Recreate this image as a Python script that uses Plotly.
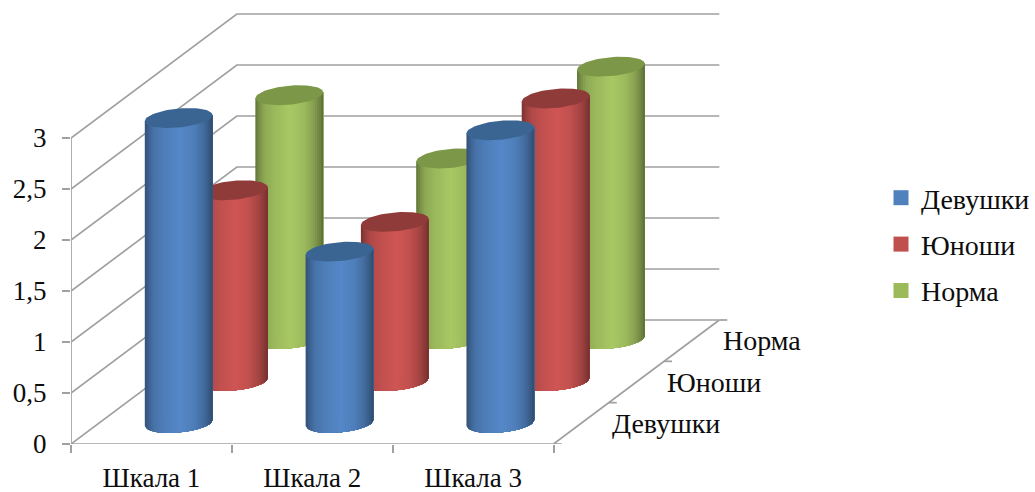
import math
import plotly.graph_objects as go

# ---- data ----
categories = ["Шкала 1", "Шкала 2", "Шкала 3"]
girls = [2.99, 1.68, 2.87]
boys = [1.87, 1.56, 2.77]
norm = [2.39, 1.77, 2.67]
series_names = ["Девушки", "Юноши", "Норма"]
value_ticks = [0, 0.5, 1, 1.5, 2, 2.5, 3]
value_labels = ["0", "0,5", "1", "1,5", "2", "2,5", "3"]

# ---- geometry / style ----
W, H = 1035, 492
ML, MB = 71, 48
PX_X, PX_Y = 161.0, 102.0        # pixels per category / per value unit
DEPTH_X, DEPTH_Y = 166 / PX_X, 124 / PX_Y   # oblique offset of the full floor depth
CYL_DEPTH_Y = 126 / PX_Y
CYL_NUDGE_X = -0.4 / PX_X
RX, RY, LEAN = 33.9 / PX_X, 9.5 / PX_Y, 3 / PX_Y
FONT = "Liberation Serif"
FS = 27
FS_NAMES = 28
INK = "#0d0d0d"
GRID = "#a0a0a0"
PEAK = {"Девушки": (85, 136, 200), "Юноши": (207, 86, 84), "Норма": (168, 200, 100)}
CAP = {"Девушки": "#3a6593", "Юноши": "#8f3b39", "Норма": "#7c9747"}
KEY = {"Девушки": "#4f81bd", "Юноши": "#c0504d", "Норма": "#9bbb59"}
SHADE = [(0, .58), (.06, .72), (.14, .85), (.3, .93), (.52, 1.0), (.72, .93), (.86, .8), (.95, .66), (1, .55)]
N_STRIPS = 34


def project(cat, depth, val):
    return cat + depth * DEPTH_X, val + depth * DEPTH_Y


def shade(rgb, s):
    for (s0, m0), (s1, m1) in zip(SHADE, SHADE[1:]):
        if s <= s1:
            m = m0 + (m1 - m0) * (s - s0) / (s1 - s0)
            break
    return "rgb(%d,%d,%d)" % tuple(round(c * m) for c in rgb)


fig = go.Figure()

# walls and floor
n_cat = len(categories)
gx, gy = [], []
top = max(value_ticks)
for v in value_ticks:
    for c, d in [(0, 0), (0, 1), (n_cat, 1)]:
        x, y = project(c, d, v)
        gx.append(x); gy.append(y)
    gx.append(None); gy.append(None)
for a, b in [((0, 0, 0), (n_cat, 0, 0)), ((n_cat, 0, 0), (n_cat, 1, 0)), ((0, 0, 0), (0, 0, top))]:
    for p in (a, b):
        x, y = project(*p)
        gx.append(x); gy.append(y)
    gx.append(None); gy.append(None)
# depth-axis ticks
for i in range(len(series_names) + 1):
    x, y = project(n_cat, i / len(series_names), 0)
    gx += [x, x + 8 / PX_X, None]
    gy += [y, y, None]
fig.add_trace(go.Scatter(x=gx, y=gy, mode="lines", line=dict(color=GRID, width=1.7),
                         hoverinfo="skip", showlegend=False))


def cylinder(cat_i, depth_i, value, name):
    d = (depth_i + 0.5) / len(series_names)
    cx = cat_i + 0.5 + d * DEPTH_X + CYL_NUDGE_X
    base = d * CYL_DEPTH_Y
    topv = base + value
    for k in range(N_STRIPS):
        s0 = k / N_STRIPS
        xs, ys = [], []
        m = N_STRIPS - k
        for j in range(m + 1):
            s = s0 + (1 - s0) * j / m
            u = 2 * s - 1
            xs.append(cx + RX * u)
            ys.append(base - RY * math.sqrt(max(0, 1 - u * u)) + LEAN * u)
        xs += [cx + RX, cx + RX * (2 * s0 - 1)]
        ys += [topv + LEAN, topv + LEAN * (2 * s0 - 1)]
        fig.add_trace(go.Scatter(x=xs, y=ys, mode="lines", fill="toself", line=dict(width=0),
                                 fillcolor=shade(PEAK[name], s0 + .5 / N_STRIPS),
                                 hoverinfo="skip", showlegend=False))
    xs, ys = [], []
    for j in range(73):
        t = 2 * math.pi * j / 72
        xs.append(cx + RX * math.cos(t))
        ys.append(topv + RY * math.sin(t) + LEAN * math.cos(t))
    fig.add_trace(go.Scatter(x=xs, y=ys, mode="lines", fill="toself", line=dict(width=0),
                             fillcolor=CAP[name], hoverinfo="skip", showlegend=False))


rows = [(2, norm, "Норма"), (1, boys, "Юноши"), (0, girls, "Девушки")]
for depth_i, values, name in rows:
    for cat_i, v in enumerate(values):
        cylinder(cat_i, depth_i, v, name)

# legend keys
for name in series_names:
    fig.add_trace(go.Scatter(x=[None], y=[None], mode="markers", name=name, legendgroup=name,
                             marker=dict(symbol="square", size=15, color=KEY[name])))

# depth-axis labels
annotations = []
for i, name in enumerate(series_names):
    x, y = project(n_cat, (i + .5) / len(series_names), 0)
    annotations.append(dict(x=x, y=y, text=name, showarrow=False, xanchor="left", yanchor="middle",
                            xshift=29, font=dict(family=FONT, size=FS_NAMES, color=INK)))

fig.update_layout(
    width=W, height=H, autosize=False,
    margin=dict(l=ML, r=0, t=0, b=MB, pad=0),
    paper_bgcolor="white", plot_bgcolor="white",
    font=dict(family=FONT, size=FS, color=INK),
    annotations=annotations,
    legend=dict(x=(882 - ML) / (W - ML), y=1 - (173) / (H - MB), xanchor="left", yanchor="top",
                tracegroupgap=7, bgcolor="rgba(0,0,0,0)", font=dict(family=FONT, size=FS_NAMES, color=INK),
                traceorder="grouped"),
    xaxis=dict(range=[0, (W - ML) / PX_X], showgrid=False, zeroline=False, showline=False,
               tickmode="array", tickvals=[i + .5 for i in range(n_cat)], ticktext=categories,
               ticks="", ticklabelstandoff=15,
               minor=dict(tickmode="array", tickvals=list(range(n_cat + 1)), ticks="outside",
                          ticklen=8, tickwidth=1.7, tickcolor=GRID)),
    yaxis=dict(range=[0, (H - MB) / PX_Y], showgrid=False, zeroline=False, showline=False,
               tickmode="array", tickvals=value_ticks, ticktext=value_labels,
               ticks="outside", ticklen=8, tickwidth=1.7, tickcolor=GRID, ticklabelstandoff=10),
)
fig.write_html("out.html", config=dict(displayModeBar=False),
               post_script="document.body.style.margin='0';")
